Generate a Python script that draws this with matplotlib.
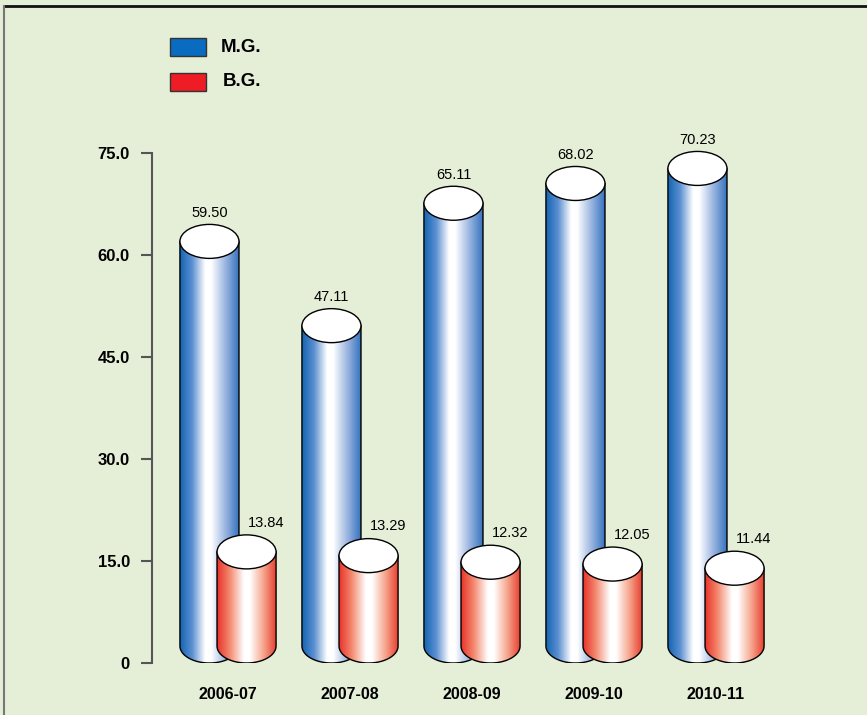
import numpy as np
import matplotlib.pyplot as plt
from matplotlib.colors import LinearSegmentedColormap
from matplotlib.patches import Ellipse, Rectangle, PathPatch
from matplotlib.path import Path

plt.rcParams['font.family'] = ['Liberation Sans', 'DejaVu Sans']

# data
years = ['2006-07', '2007-08', '2008-09', '2009-10', '2010-11']
mg = [59.50, 47.11, 65.11, 68.02, 70.23]
bg = [13.84, 13.29, 12.32, 12.05, 11.44]
yticks = [0, 15, 30, 45, 60, 75]
ytick_labels = ['0', '15.0', '30.0', '45.0', '60.0', '75.0']

bg_color = '#e5efd7'
blue_map = LinearSegmentedColormap.from_list(
    'blue_cyl', [(0, '#1565b3'), (0.2, '#5b8fd0'), (0.42, '#ffffff'),
                 (0.52, '#ffffff'), (0.75, '#9fb8e2'), (1, '#2f6fbd')])
red_map = LinearSegmentedColormap.from_list(
    'red_cyl', [(0, '#e8332a'), (0.2, '#f3846a'), (0.45, '#ffffff'),
                (0.55, '#ffffff'), (0.78, '#f6a48c'), (1, '#e63a2c')])

fig = plt.figure(figsize=(8.67, 7.15), dpi=100)
fig.patch.set_facecolor(bg_color)

# overlay in pixel coordinates for the frame and the legend
ov = fig.add_axes([0, 0, 1, 1])
ov.set_xlim(0, 867)
ov.set_ylim(715, 0)
ov.axis('off')
ov.plot([4, 867], [6, 6], color='#111111', lw=2)
ov.plot([4, 4], [6, 715], color='#777777', lw=1.5)
ov.add_patch(Rectangle((170, 38), 36, 18, facecolor='#0a6cc0', edgecolor='#333333', lw=1))
ov.add_patch(Rectangle((170, 73), 36, 18, facecolor='#ee1c25', edgecolor='#333333', lw=1))
ov.text(221, 47, 'M.G.', fontsize=13.5, fontweight='bold', va='center', ha='left')
ov.text(223, 82, 'B.G.', fontsize=13.5, fontweight='bold', va='center', ha='left')

ax = fig.add_axes([152 / 867, 52 / 715, 708 / 867, 543 / 715])
ax.patch.set_visible(False)

half_w = 0.242      # cylinder half width (x units)
shift = 0.152       # offset of each cylinder from group centre
eh = 2.5            # half height of the end ellipses (y units)


def cylinder(xc, val, cmap, z):
    x0, x1 = xc - half_w, xc + half_w
    yb, yt = eh, eh + val
    t = np.linspace(np.pi, 2 * np.pi, 60)
    arc_x = xc + half_w * np.cos(t)
    arc_y = yb + eh * np.sin(t)
    xs = np.concatenate([[x0], arc_x, [x1, x0]])
    ys = np.concatenate([[yt], arc_y, [yt, yt]])
    clip = PathPatch(Path(np.column_stack([xs, ys])), transform=ax.transData)
    grad = np.linspace(0, 1, 200).reshape(1, -1)
    im = ax.imshow(grad, cmap=cmap, extent=[x0, x1, yb - eh, yt], aspect='auto',
                   origin='lower', zorder=z, interpolation='bilinear')
    im.set_clip_path(clip)
    ax.plot(np.concatenate([[x0], arc_x, [x1]]), np.concatenate([[yt], arc_y, [yt]]),
            color='black', lw=1, zorder=z + 0.1)
    ax.add_patch(Ellipse((xc, yt), 2 * half_w, 2 * eh, facecolor='white',
                         edgecolor='black', lw=1, zorder=z + 0.2))


for i in range(len(years)):
    cylinder(i - shift, mg[i], blue_map, 2 + i)
    cylinder(i + shift, bg[i], red_map, 2.5 + i)
    ax.annotate(f'{mg[i]:.2f}', (i - shift, mg[i] + eh), xytext=(0, 20.5),
                textcoords='offset points', ha='center', va='center', fontsize=10.5)
    ax.annotate(f'{bg[i]:.2f}', (i + shift, bg[i] + eh), xytext=(14, 21),
                textcoords='offset points', ha='center', va='center', fontsize=10.5)

ax.set_xlim(-76 / 122, 632 / 122)
ax.set_ylim(0, 543 / 6.8)

ax.set_yticks(yticks)
ax.set_yticklabels(ytick_labels, fontsize=12, fontweight='bold')
ax.set_xticks(range(len(years)))
ax.set_xticklabels(years, fontsize=11.5, fontweight='bold')
ax.tick_params(axis='x', length=0, pad=17)
ax.tick_params(axis='y', length=8, width=1.5, color='#555555', pad=8)

for s in ['top', 'right', 'bottom']:
    ax.spines[s].set_visible(False)
ax.spines['left'].set_bounds(0, 75)
ax.spines['left'].set_color('#555555')
ax.spines['left'].set_linewidth(1.5)

fig.savefig('out.png', dpi=100, facecolor=bg_color)
